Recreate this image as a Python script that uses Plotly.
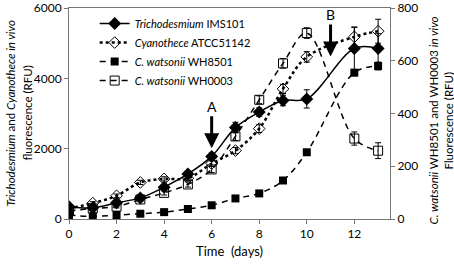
import plotly.graph_objects as go

days = [0, 1, 2, 3, 4, 5, 6, 7, 8, 9, 10, 12, 13]

tricho = [350, 320, 460, 600, 905, 1280, 1780, 2600, 3040, 3370, 3415, 4850, 4850]
tricho_err = [40, 40, 50, 50, 60, 70, 90, 150, 120, 150, 260, 600, 420]

cyano = [300, 450, 660, 1040, 1140, 1160, 1575, 1945, 2570, 3700, 4610, 5180, 5340]
cyano_err = [40, 40, 50, 60, 60, 60, 80, 90, 110, 130, 150, 280, 340]

wh8501 = [15, 10, 15, 20, 26, 38, 52, 78, 97, 146, 253, 555, 580]
wh8501_err = [3, 3, 3, 3, 3, 4, 5, 6, 6, 8, 10, 12, 15]

wh0003 = [30, 40, 47, 74, 99, 131, 188, 313, 452, 590, 705, 305, 259]
wh0003_err = [5, 5, 5, 6, 8, 10, 12, 15, 15, 18, 20, 25, 30]

names = ["<i>Trichodesmium</i> IMS101", "<i>Cyanothece</i> ATCC51142",
         "<i>C. watsonii</i> WH8501", "<i>C. watsonii</i> WH0003"]

FONT = "Lato"
fig = go.Figure()

def eb(arr):
    return dict(type="data", array=arr, visible=True, color="black", thickness=1, width=3)

fig.add_trace(go.Scatter(x=days, y=tricho, name=names[0], mode="lines+markers",
                         line=dict(color="black", width=1.5, shape="spline"),
                         marker=dict(symbol="diamond", size=10, color="black"),
                         error_y=eb(tricho_err)))
fig.add_trace(go.Scatter(x=days, y=cyano, name=names[1], mode="lines+markers",
                         line=dict(color="black", width=2.5, dash="dot", shape="spline"),
                         marker=dict(symbol="diamond-open", size=9, color="black", line=dict(width=1)),
                         error_y=eb(cyano_err)))
fig.add_trace(go.Scatter(x=days, y=wh8501, name=names[2], mode="lines+markers", yaxis="y2",
                         line=dict(color="black", width=1.5, dash="6px,5px", shape="spline"),
                         marker=dict(symbol="square", size=8, color="black"),
                         error_y=eb(wh8501_err)))
fig.add_trace(go.Scatter(x=days, y=wh0003, name=names[3], mode="lines+markers", yaxis="y2",
                         line=dict(color="black", width=1.5, dash="6px,5px", shape="spline"),
                         marker=dict(symbol="square-open", size=9, color="black", line=dict(width=1)),
                         error_y=eb(wh0003_err)))

fig.add_annotation(x=6, y=2010, text="A", showarrow=True, ax=0, ay=-42,
                   arrowhead=2, arrowsize=1, arrowwidth=3, arrowcolor="black",
                   font=dict(family=FONT, size=14, color="black"))
fig.add_annotation(x=11, y=4620, text="B", showarrow=True, ax=0, ay=-42,
                   arrowhead=2, arrowsize=1, arrowwidth=3, arrowcolor="black",
                   font=dict(family=FONT, size=14, color="black"))

def side_text(text, xpos, xshift, yshift=0, size=11.5):
    fig.add_annotation(xref="paper", yref="paper", x=xpos, y=0.5, xshift=xshift, yshift=yshift,
                       showarrow=False, textangle=-90, xanchor="center", yanchor="middle",
                       text=text, font=dict(family=FONT, size=size, color="black"))

side_text("<i>Trichodesmium</i> and <i>Cyanothece in vivo</i>", 0, -59)
side_text("fluorescence (RFU)", 0, -42)
side_text("<i>C. watsonii</i> WH8501 and WH0003 <i>in vivo</i>", 1, 43, -7)
side_text("Fluorescence (RFU)", 1, 58, -7)

fig.add_annotation(xref="paper", yref="paper", x=0.5, y=0, yshift=-32, showarrow=False,
                   xanchor="center", yanchor="middle", text="Time  (days)",
                   font=dict(family=FONT, size=13, color="black"))

axis_common = dict(showgrid=False, zeroline=False, showline=True, linecolor="#777", linewidth=1,
                   ticks="outside", ticklen=4, tickcolor="#777", automargin=False,
                   ticklabeloverflow="allow")

fig.update_layout(
    width=454, height=264,
    margin=dict(l=69, r=64, t=8, b=45),
    paper_bgcolor="white", plot_bgcolor="white",
    font=dict(family=FONT, size=12, color="black"),
    showlegend=True,
    legend=dict(x=0.08, y=0.995, xanchor="left", yanchor="top", bgcolor="rgba(0,0,0,0)",
                font=dict(family=FONT, size=11), itemwidth=30, tracegroupgap=0),
    xaxis=dict(range=[0, 13.5], tickvals=[0, 2, 4, 6, 8, 10, 12], mirror=True, **axis_common),
    yaxis=dict(range=[0, 6000], tickvals=[0, 2000, 4000, 6000], **axis_common),
    yaxis2=dict(range=[0, 800], tickvals=[0, 200, 400, 600, 800], overlaying="y", side="right",
                **axis_common),
)

fig.write_html("out.html", config={"displayModeBar": False},
               post_script="document.body.style.margin='0';document.body.style.overflow='hidden';")
